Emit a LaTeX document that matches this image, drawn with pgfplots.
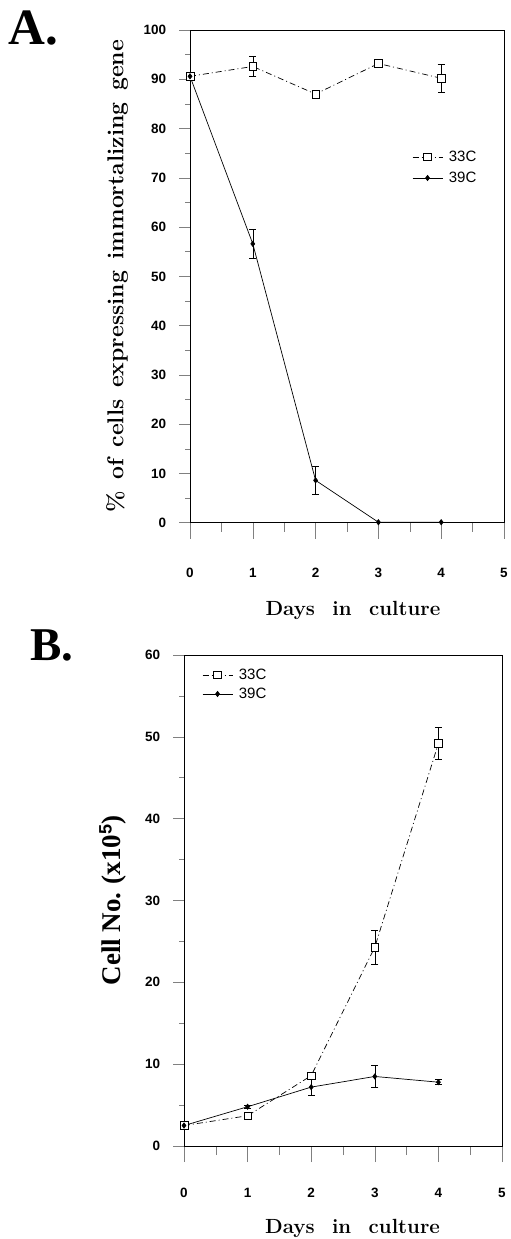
\documentclass[border=0pt]{standalone}
\usepackage{fontspec}
\usepackage{pgfplots}
\pgfplotsset{compat=1.18}
\newfontfamily\sansfam{Liberation Sans}
\newfontfamily\timesfam{Liberation Serif}
\newcommand{\tickf}{\sansfam\bfseries\fontsize{13.5bp}{15bp}\selectfont}
\newcommand{\legf}{\sansfam\fontsize{15bp}{17bp}\selectfont}
\pgfplotsset{
  panel/.style={
    scale only axis,
    xmin=0, xmax=5,
    tick pos=left, tick align=outside,
    xtick={0,1,2,3,4,5}, minor x tick num=1, minor y tick num=1,
    x tick style={/pgfplots/major tick length=16bp,/pgfplots/minor tick length=9bp, line width=0.6pt},
    y tick style={/pgfplots/major tick length=11bp,/pgfplots/minor tick length=5bp, line width=0.6pt},
    ticklabel style={font=\tickf},
    /pgf/number format/assume math mode=true,
    yticklabel style={xshift=-16bp},
    axis line style={line width=0.7pt},
    legend cell align=left,
    legend image code/.code={\draw[mark repeat=2,mark phase=2,#1] plot coordinates {(0bp,0bp) (15bp,0bp) (30bp,0bp)};},
    error bars/error bar style={solid, line width=0.6pt},
    error bars/error mark options={rotate=90, mark size=3.5bp, solid, line width=0.6pt},
  },
  s33/.style={black, line width=0.7pt, dash pattern=on 6bp off 3bp on 1bp off 3bp, mark=square*, mark options={solid, fill=white, mark size=3.8bp, line width=0.6pt}},
  s39/.style={black, line width=0.7pt, solid, mark=diamond*, mark options={solid, fill=black, mark size=2.6bp}},
}
\begin{document}
\begin{tikzpicture}
\useasboundingbox (0,0) rectangle (511bp,-1239bp);
\node[anchor=base west, inner sep=0pt, font=\timesfam\bfseries\fontsize{51bp}{51bp}\selectfont] at (8bp,-44bp) {A.};
\begin{axis}[panel,
  at={(190bp,-522.7bp)}, anchor=south west,
  width=314bp, height=492.7bp,
  ymin=0, ymax=100, ytick={0,10,...,100},
  xticklabel style={yshift=-38bp},
  xlabel={\bfseries\fontsize{20.5bp}{22bp}\selectfont Days\hspace{0.85em}in\hspace{0.85em}culture},
  xlabel style={at={(axis description cs:0.519,-0.1772)}, anchor=center},
  ylabel={\bfseries\fontsize{23bp}{26bp}\selectfont \%\hspace{0.5em}of\hspace{0.5em}cells\hspace{0.5em}expressing\hspace{0.5em}immortalizing\hspace{0.5em}gene},
  ylabel style={at={(axis description cs:-0.2325,0.5)}, anchor=center},
  legend style={at={(axis description cs:0.707,0.721)}, anchor=west, draw=none, fill=none, inner sep=0pt, font=\legf, row sep=11bp, column sep=6bp, nodes={inner sep=0pt, text height=10bp, text depth=0bp}},
]
\addplot+[s33, error bars/.cd, y dir=both, y explicit] coordinates {
  (0,90.6) +- (0,0.8)
  (1,92.6) +- (0,2.0)
  (2,87.0) +- (0,0.6)
  (3,93.2) +- (0,0.6)
  (4,90.2) +- (0,2.8)
};
\addlegendentry{33C}
\addplot+[s39, error bars/.cd, y dir=both, y explicit] coordinates {
  (0,90.6) +- (0,0.6)
  (1,56.6) +- (0,3.0)
  (2,8.6) +- (0,2.9)
  (3,0.1) +- (0,0)
  (4,0.1) +- (0,0)
};
\addlegendentry{39C}
\end{axis}

\node[anchor=base west, inner sep=0pt, font=\timesfam\bfseries\fontsize{47bp}{47bp}\selectfont] at (30bp,-660bp) {B.};
\begin{axis}[panel,
  at={(184bp,-1146bp)}, anchor=south west,
  width=318bp, height=491bp,
  ymin=0, ymax=60, ytick={0,10,...,60},
  xticklabel style={yshift=-34bp},
  xlabel={\bfseries\fontsize{20.5bp}{22bp}\selectfont Days\hspace{0.85em}in\hspace{0.85em}culture},
  xlabel style={at={(axis description cs:0.530,-0.167)}, anchor=center},
  ylabel={\timesfam\bfseries\fontsize{27bp}{29bp}\selectfont Cell No.\hspace{0.3em}(x10\raisebox{0.75ex}{\sansfam\bfseries\fontsize{18bp}{18bp}\selectfont 5})},
  ylabel style={at={(axis description cs:-0.2233,0.5)}, anchor=center},
  legend style={at={(axis description cs:0.0566,0.94)}, anchor=west, draw=none, fill=none, inner sep=0pt, font=\legf, row sep=9bp, column sep=6bp, nodes={inner sep=0pt, text height=10bp, text depth=0bp}},
]
\addplot+[s33, error bars/.cd, y dir=both, y explicit] coordinates {
  (0,2.5) +- (0,0.3)
  (1,3.7) +- (0,0.3)
  (2,8.6) +- (0,0.4)
  (3,24.3) +- (0,2.1)
  (4,49.2) +- (0,2.0)
};
\addlegendentry{33C}
\addplot+[s39, error bars/.cd, y dir=both, y explicit] coordinates {
  (0,2.5) +- (0,0.2)
  (1,4.8) +- (0,0.2)
  (2,7.2) +- (0,1.0)
  (3,8.5) +- (0,1.35)
  (4,7.8) +- (0,0.3)
};
\addlegendentry{39C}
\end{axis}
\end{tikzpicture}
\end{document}
